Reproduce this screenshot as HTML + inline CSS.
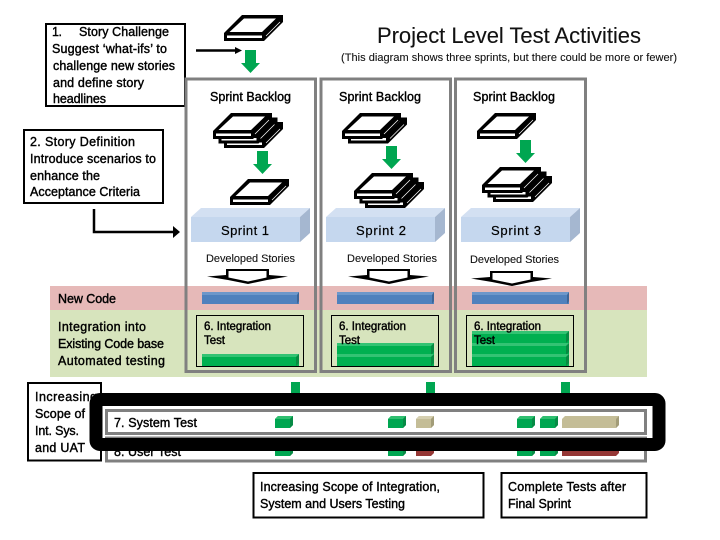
<!DOCTYPE html>
<html>
<head>
<meta charset="utf-8">
<style>
html,body{margin:0;padding:0;background:#fff;width:720px;height:540px;overflow:hidden}
svg{display:block}
text{font-family:"Liberation Sans",sans-serif;font-size:12.5px;fill:#000;stroke:#000;stroke-width:.4}
.t{stroke:#111;stroke-width:.1;fill:#111}
.s{font-size:11.5px}
</style>
</head>
<body>
<svg width="720" height="540" viewBox="0 0 720 540" xmlns="http://www.w3.org/2000/svg">
<defs>
<g id="ic">
<polygon points="0,18 18,0 59,0 59,7 40,26 0,26" fill="#000"/>
<polygon points="5.500,17 20,3.500 52,3.500 38,17" fill="#fff"/>
<rect x="3" y="20.500" width="35" height="2.500" fill="#fff"/>
<line x1="42" y1="21" x2="56" y2="7" stroke="#fff" stroke-width=".7"/>
</g>
<g id="st3"><use href="#ic" x="11" y="9"/><use href="#ic" x="5.500" y="4.500"/><use href="#ic"/></g>
<g id="st2"><use href="#ic" x="6" y="4.500"/><use href="#ic"/></g>
<polygon id="ga" points="4,0 15,0 15,13 19,13 9.500,23 0,13 4,13" fill="#00a651"/>
<g id="spr">
<polygon points="0,9 10,0 119,0 109,9" fill="#d3e0f2"/>
<rect x="0" y="9" width="109" height="25" fill="#c5d7ee"/>
<polygon points="109,9 119,0 119,25 109,34" fill="#a5b7d0"/>
</g>
<g id="blue">
<rect x="0" y="0" width="97" height="12" fill="#4f81bd"/>
<rect x="0" y="0" width="97" height="3" fill="#6d97ca"/>
<polygon points="95,3 97,0 97,9 95,12" fill="#3c6596"/>
</g>
<g id="grn">
<rect x="0" y="0" width="97" height="12" fill="#00b050"/>
<rect x="0" y="0" width="97" height="3" fill="#33c373"/>
<polygon points="94,3 97,0 97,9 94,12" fill="#068a42"/>
</g>
<g id="gs">
<polygon points="0,3 3,0 18,0 18,9 15,12 0,12" fill="#00a651"/>
<polygon points="0,3 3,0 18,0 15,3" fill="#2fbf70"/>
<polygon points="15,3 18,0 18,9 15,12" fill="#078a45"/>
</g>
<g id="tan">
<polygon points="0,3 3,0 18,0 18,9 15,12 0,12" fill="#c4bd97"/>
<polygon points="0,3 3,0 18,0 15,3" fill="#d5cfb0"/>
<polygon points="15,3 18,0 18,9 15,12" fill="#a29c78"/>
</g>
<g id="ha">
<polygon points="19,0 62,0 62,6 81,7.500 60,11 41,15 21,11 0,7.500 19,6" fill="#000"/>
<polygon points="21.500,2 59.500,2 59.500,8.500 41,12.500 21.500,8.500" fill="#fff"/>
</g>
</defs>

<!-- bands -->
<rect x="50" y="286" width="597" height="24" fill="#e6b9b8"/>
<rect x="50" y="310" width="597" height="67" fill="#d7e4bd"/>

<!-- box 1 -->
<rect x="46" y="24" width="139" height="82" fill="#fff" stroke="#000" stroke-width="2"/>
<text x="52" y="36" textLength="10">1.</text>
<text x="79" y="36" textLength="90">Story Challenge</text>
<text x="52" y="53" textLength="115">Suggest ‘what-ifs’ to</text>
<text x="53" y="70" textLength="122">challenge new stories</text>
<text x="53" y="87" textLength="91">and define story</text>
<text x="53" y="103" textLength="53">headlines</text>

<!-- box 2 -->
<rect x="24" y="130" width="139" height="73" fill="#fff" stroke="#000" stroke-width="2"/>
<text x="30" y="146" textLength="105">2. Story Definition</text>
<text x="30" y="163" textLength="126">Introduce scenarios to</text>
<text x="30" y="180" textLength="70">enhance the</text>
<text x="30" y="196" textLength="110">Acceptance Criteria</text>

<!-- connector arrows -->
<line x1="196" y1="50.500" x2="236" y2="50.500" stroke="#000" stroke-width="2.500"/>
<polygon points="235,47 242,50.500 235,54" fill="#000"/>
<polyline points="94,209 94,232 174,232" fill="none" stroke="#000" stroke-width="2.500"/>
<polygon points="173,226 180,232 173,238" fill="#000"/>

<!-- title -->
<text class="t" x="377" y="43" textLength="264" style="font-size:22px">Project Level Test Activities</text>
<text class="t" x="341" y="61" textLength="336" style="font-size:11px">(This diagram shows three sprints, but there could be more or fewer)</text>

<!-- top icon -->
<use href="#ic" x="224" y="15"/>
<use href="#ga" x="241" y="50"/>

<!-- sprint frames -->
<rect x="186" y="79" width="129.500" height="292.500" fill="none" stroke="#808080" stroke-width="3"/>
<rect x="321" y="79" width="129.500" height="292.500" fill="none" stroke="#808080" stroke-width="3"/>
<rect x="455.500" y="79" width="130" height="292.500" fill="none" stroke="#808080" stroke-width="3"/>

<text x="210" y="101" textLength="81">Sprint Backlog</text>
<text x="339" y="101" textLength="82">Sprint Backlog</text>
<text x="473" y="101" textLength="82">Sprint Backlog</text>

<use href="#st3" x="213" y="113"/>
<use href="#ga" x="253" y="151"/>
<use href="#ic" x="230" y="179"/>

<use href="#st2" x="342" y="113"/>
<use href="#ga" x="382" y="146"/>
<use href="#st3" x="354" y="173"/>

<use href="#ic" x="477" y="113"/>
<use href="#ga" x="516" y="140"/>
<use href="#st3" x="482" y="167"/>

<!-- sprint blocks -->
<use href="#spr" x="191" y="208"/>
<use href="#spr" x="326" y="208"/>
<use href="#spr" x="461" y="208"/>
<text x="221" y="235" textLength="48" style="font-size:13px;stroke-width:.2">Sprint 1</text>
<text x="356" y="235" textLength="50" style="font-size:13px;stroke-width:.2">Sprint 2</text>
<text x="491" y="235" textLength="50" style="font-size:13px;stroke-width:.2">Sprint 3</text>

<text class="t" x="206" y="262" textLength="89" style="font-size:11px">Developed Stories</text>
<text class="t" x="347" y="262" textLength="90" style="font-size:11px">Developed Stories</text>
<text class="t" x="470" y="263" textLength="89" style="font-size:11px">Developed Stories</text>

<use href="#ha" x="207" y="269"/>
<use href="#ha" x="348" y="269"/>
<use href="#ha" x="471" y="271"/>

<!-- band labels -->
<text x="58" y="303" textLength="58">New Code</text>
<text x="58" y="331" textLength="88">Integration into</text>
<text x="58" y="348" textLength="106">Existing Code base</text>
<text x="58" y="365" textLength="107">Automated testing</text>

<!-- blue bars -->
<use href="#blue" x="202" y="292"/>
<use href="#blue" x="337" y="292"/>
<use href="#blue" x="472" y="292"/>

<!-- integration boxes -->
<rect x="196.500" y="315.500" width="107" height="51" fill="none" stroke="#000"/>
<rect x="331.500" y="315.500" width="107" height="51" fill="none" stroke="#000"/>
<rect x="466.500" y="315.500" width="107" height="51" fill="none" stroke="#000"/>

<use href="#grn" x="202" y="354"/>
<use href="#grn" x="337" y="343"/>
<use href="#grn" x="337" y="354"/>
<use href="#grn" x="472" y="331"/>
<use href="#grn" x="472" y="343"/>
<use href="#grn" x="472" y="354"/>

<text class="s" x="204" y="330" textLength="67">6. Integration</text>
<text class="s" x="204" y="344" textLength="21">Test</text>
<text class="s" x="339" y="330" textLength="67">6. Integration</text>
<text class="s" x="339" y="344" textLength="21">Test</text>
<text class="s" x="474" y="330" textLength="67">6. Integration</text>
<text class="s" x="474" y="344" textLength="21">Test</text>

<!-- small green stems -->
<rect x="291" y="382" width="9" height="12" fill="#00a651"/>
<rect x="426" y="382" width="9" height="12" fill="#00a651"/>
<rect x="561" y="382" width="9" height="12" fill="#00a651"/>

<!-- increasing box -->
<rect x="28" y="383" width="73" height="77.500" fill="#fff" stroke="#000" stroke-width="2"/>
<text x="35" y="401" textLength="62">Increasing</text>
<text x="35" y="418" textLength="50">Scope of</text>
<text x="35" y="435" textLength="44">Int. Sys.</text>
<text x="35" y="452" textLength="50">and UAT</text>

<!-- user test row -->
<rect x="106.500" y="438" width="539" height="23" fill="#fff" stroke="#808080" stroke-width="3"/>
<text x="114" y="456" textLength="67">8. User Test</text>
<use href="#gs" x="275" y="444"/>
<use href="#gs" x="388" y="444"/>
<polygon points="416,444 434,444 434,453 431,456 416,456" fill="#953735"/>
<use href="#gs" x="517" y="444"/>
<use href="#gs" x="540" y="444"/>
<polygon points="562,444 619,444 619,453 616,456 562,456" fill="#953735"/>

<!-- thick black ring -->
<rect x="96" y="399.500" width="563" height="45" rx="4" fill="none" stroke="#000" stroke-width="13"/>

<!-- system test row -->
<rect x="106.500" y="410.500" width="539" height="23" fill="#fff" stroke="#808080" stroke-width="3"/>
<text x="114" y="427" textLength="83">7. System Test</text>
<use href="#gs" x="275" y="416"/>
<use href="#gs" x="388" y="416"/>
<use href="#tan" x="416" y="416"/>
<use href="#gs" x="517" y="416"/>
<use href="#gs" x="540" y="416"/>
<polygon points="562,419 565,416 619,416 619,425 616,428 562,428" fill="#c4bd97"/>
<polygon points="616,419 619,416 619,425 616,428" fill="#a29c78"/>

<!-- bottom boxes -->
<rect x="253.500" y="473" width="230" height="44.500" fill="#fff" stroke="#000" stroke-width="2"/>
<text x="260" y="491" textLength="180">Increasing Scope of Integration,</text>
<text x="260" y="508" textLength="145">System and Users Testing</text>
<rect x="501.500" y="473" width="145" height="44.500" fill="#fff" stroke="#000" stroke-width="2"/>
<text x="508" y="491" textLength="118">Complete Tests after</text>
<text x="508" y="508" textLength="63">Final Sprint</text>
</svg>
</body>
</html>
